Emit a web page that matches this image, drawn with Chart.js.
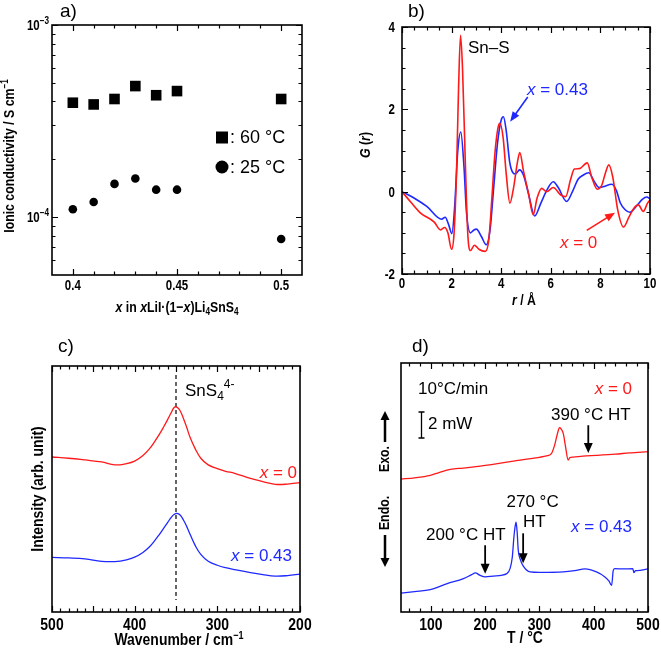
<!DOCTYPE html>
<html>
<head>
<meta charset="utf-8">
<script src="https://cdn.jsdelivr.net/npm/chart.js@4.4.1/dist/chart.umd.min.js"></script>
<style>
  body { margin: 0; background: #fff; }
  #wrap { position: relative; width: 661px; height: 652px; }
  #wrap canvas { position: absolute; left: 0; top: 0; }
</style>
</head>
<body>
<div id="wrap">
  <canvas id="chartA" width="661" height="652"></canvas>
  <canvas id="chartB" width="661" height="652"></canvas>
  <canvas id="chartC" width="661" height="652"></canvas>
  <canvas id="chartD" width="661" height="652"></canvas>
</div>
<script>
"use strict";

// a) ionic conductivity vs composition
const aX = [0.40, 0.41, 0.42, 0.43, 0.44, 0.45, 0.50];
const aS60 = [3.94e-4, 3.86e-4, 4.12e-4, 4.81e-4, 4.31e-4, 4.53e-4, 4.12e-4];
const aS25 = [1.10e-4, 1.20e-4, 1.49e-4, 1.59e-4, 1.39e-4, 1.39e-4, 7.7e-5];
const aXTicks = [0.4, 0.45, 0.5];
const aYTicks = [1e-4, 1e-3];
const aYExp = ["−4", "−3"];

// b) pair distribution function G(r)
const bR0 = [0, 0.35, 0.75, 1.3, 1.55, 1.72, 1.85, 2.0, 2.1, 2.2, 2.28, 2.36, 2.44, 2.55, 2.65, 2.76, 2.92, 3.1, 3.36, 3.5,
  3.62, 3.75, 3.87, 3.95, 4.08, 4.2, 4.35, 4.5, 4.65, 4.75, 4.9, 5.1, 5.29, 5.45, 5.63, 5.83, 6.1, 6.4, 6.6, 6.8,
  6.95, 7.15, 7.47, 7.65, 7.87, 8.05, 8.2, 8.34, 8.5, 8.7, 8.93, 9.15, 9.35, 9.53, 9.73, 9.9, 10];
const bG0 = [0, -0.25, -0.52, -0.74, -0.93, -0.87, -1.0, -1.4, -1.0, 0.5, 2.5, 3.8, 3.0, 0.77, -1.0, -1.43, -1.3, -1.4, -1.45, -1.17,
  -0.2, 0.95, 1.55, 1.66, 1.3, 0.45, -0.28, 0.1, 0.7, 0.95, 0.5, -0.04, -0.56, -0.15, 0.08, 0.0, 0.1, -0.08, -0.12, 0.3,
  0.55, 0.56, 0.7, 0.35, 0.06, 0.15, 0.45, 0.65, 0.35, -0.45, -0.86, -0.62, -0.4, -0.32, -0.48, -0.28, -0.2];
const bR43 = [0, 0.5, 1.0, 1.6, 1.74, 1.88, 2.01, 2.12, 2.25, 2.37, 2.5, 2.6, 2.76, 2.9, 3.0, 3.2, 3.4, 3.55, 3.7, 3.85,
  4.0, 4.09, 4.2, 4.35, 4.58, 4.74, 4.9, 5.1, 5.35, 5.6, 5.85, 6.1, 6.3, 6.64, 6.9, 7.1, 7.3, 7.53, 7.75, 7.95,
  8.1, 8.47, 8.65, 8.8, 9.0, 9.19, 9.45, 9.7, 9.87, 10];
const bG43 = [0, -0.16, -0.36, -0.67, -0.62, -0.8, -1.02, -0.4, 1.0, 1.45, 0.6, -0.5, -1.0, -0.93, -0.91, -1.09, -1.29, -0.93, 0.12, 1.17,
  1.74, 1.82, 1.49, 0.69, 0.43, 0.53, 0.4, -0.05, -0.59, -0.28, 0.05, 0.24, 0.1, -0.24, 0.04, 0.3, 0.4, 0.46, 0.25, 0.1,
  0.12, 0.18, 0.02, -0.27, -0.44, -0.5, -0.35, -0.18, -0.13, -0.18];

// c) Raman spectra (arb. unit)
const cWn = [500, 480, 460, 440, 424, 410, 400, 390, 382, 376, 370, 365, 360, 356, 352, 349, 345, 341, 337, 333, 327, 320, 311, 300, 290, 279, 260, 245, 230, 215, 200];
const cI0 = [63.0, 62.5, 61.8, 61.0, 59.8, 60.3, 61.3, 63.6, 66.4, 69.2, 72.3, 75.2, 78.3, 80.9, 83.2, 83.3, 81.8, 78.7, 75.0, 71.0, 66.5, 62.5, 59.8, 58.3, 57.2, 56.4, 54.3, 53.0, 51.9, 52.0, 52.6];
const cI43 = [22.2, 22.0, 21.6, 20.6, 20.5, 21.2, 22.3, 24.2, 26.5, 28.9, 31.6, 34.0, 36.4, 38.4, 39.7, 40.1, 39.4, 37.4, 34.7, 31.6, 27.2, 23.4, 20.6, 19.0, 18.0, 17.2, 16.0, 15.2, 14.6, 14.8, 15.4];
const cPeak = 350;

// d) DSC curves (arb. unit)
const dT0 = [45, 70, 99, 115, 136, 160, 191, 220, 252, 280, 313, 322, 328, 333, 337, 341, 344, 348, 353, 356, 362, 380, 405, 440, 466, 500];
const dH0 = [53.4, 53.9, 54.9, 56.0, 57.3, 57.8, 58.6, 59.5, 60.6, 61.5, 62.7, 63.6, 67.0, 71.5, 74.0, 73.2, 71.6, 66.5, 61.0, 62.0, 62.2, 62.6, 62.9, 63.4, 63.9, 64.4];
const dT43 = [45, 70, 99, 130, 160, 175, 182, 190, 200, 215, 240, 246, 250, 253, 255, 257, 259, 261, 265, 270, 283, 300, 344, 365, 384,
  405, 420, 428, 433, 436, 439, 455, 472, 474, 477, 480, 500];
const dH43 = [7.6, 8.2, 9.0, 11.4, 13.4, 15.0, 15.7, 14.8, 14.1, 14.4, 15.4, 17.5, 22, 30.1, 34, 36.1, 32, 24.8, 21, 18.5, 16.1, 15.9, 16.1, 16.6, 17.3,
  16.1, 14.2, 12.5, 10.7, 16.7, 17.4, 17.3, 17.4, 15.8, 16.6, 16.6, 17.3];
const dXTicks = [100, 200, 300, 400, 500];
const dHT = [200, 270, 390];

const RED = "rgb(255,25,25)";
const BLUE = "rgb(30,40,255)";
const SANS = "'Liberation Sans', Arial, sans-serif";
const NB = (s) => `bold ${s}px ${SANS}`;
const NBI = (s) => `italic bold ${s}px ${SANS}`;
const AR = (s) => `${s}px ${SANS}`;
const ARI = (s) => `italic ${s}px ${SANS}`;
const NARROW = 0.82; // axis text in the figure is a condensed bold face

const pts = (xs, ys) => xs.map((x, i) => ({ x, y: ys[i] }));
const steps = (a, b, st, skip) => {
  const out = [];
  for (let v = a; v <= b + 1e-9; v += st) {
    const r = Math.round(v * 1000) / 1000;
    if (!skip.some((s) => Math.abs(s - r) < 1e-9)) out.push(r);
  }
  return out;
};

// runs: [text, font, dy]; k squeezes the text horizontally
function rich(ctx, runs, x, y, align, rot, base, k) {
  ctx.save();
  ctx.translate(x, y);
  if (rot) ctx.rotate(rot);
  if (k) ctx.scale(k, 1);
  ctx.textAlign = "left";
  ctx.textBaseline = base || "alphabetic";
  let w = 0;
  runs.forEach((r) => { ctx.font = r[1]; w += ctx.measureText(r[0]).width; });
  let cx = align === "center" ? -w / 2 : align === "right" ? -w : 0;
  runs.forEach((r) => {
    ctx.font = r[1];
    ctx.fillText(r[0], cx, r[2] || 0);
    cx += ctx.measureText(r[0]).width;
  });
  ctx.restore();
}

function arrow(ctx, x1, y1, x2, y2, lw, hl, hw) {
  const ang = Math.atan2(y2 - y1, x2 - x1);
  const c = Math.cos(ang), s = Math.sin(ang);
  ctx.lineWidth = lw;
  ctx.beginPath();
  ctx.moveTo(x1, y1);
  ctx.lineTo(x2 - hl * 0.7 * c, y2 - hl * 0.7 * s);
  ctx.stroke();
  ctx.beginPath();
  ctx.moveTo(x2, y2);
  ctx.lineTo(x2 - hl * c + (hw / 2) * s, y2 - hl * s - (hw / 2) * c);
  ctx.lineTo(x2 - hl * c - (hw / 2) * s, y2 - hl * s + (hw / 2) * c);
  ctx.closePath();
  ctx.fill();
}

// box with inward ticks on every side, tick labels, plus the panel's own text
function frame(spec) {
  return {
    id: "frame",
    afterDraw(chart) {
      const { ctx, chartArea: a } = chart;
      const sx = chart.scales.x, sy = chart.scales.y;
      ctx.save();
      ctx.strokeStyle = "#000";
      ctx.lineWidth = 1.2;
      const mark = (sc, vals, len) => {
        vals.forEach((v) => {
          const p = Math.round(sc.getPixelForValue(v)) + 0.5;
          ctx.beginPath();
          if (sc === sx) {
            ctx.moveTo(p, a.bottom); ctx.lineTo(p, a.bottom - len);
            ctx.moveTo(p, a.top); ctx.lineTo(p, a.top + len);
          } else {
            ctx.moveTo(a.left, p); ctx.lineTo(a.left + len, p);
            ctx.moveTo(a.right, p); ctx.lineTo(a.right - len, p);
          }
          ctx.stroke();
        });
      };
      mark(sx, spec.xMajor || [], 6);
      mark(sx, spec.xMinor || [], 3.5);
      mark(sy, spec.yMajor || [], 6);
      mark(sy, spec.yMinor || [], 3.5);
      ctx.lineWidth = 1.6;
      ctx.strokeRect(a.left, a.top, a.right - a.left, a.bottom - a.top);
      ctx.fillStyle = "#000";
      ctx.strokeStyle = "#000";
      const fs = spec.labelSize;
      sx.ticks.forEach((t) => {
        rich(ctx, [[String(t.value), NB(fs)]], sx.getPixelForValue(t.value), a.bottom + spec.xLabelDy, "center", 0, null, NARROW);
      });
      if (spec.yLabels) {
        sy.ticks.forEach((t) => {
          rich(ctx, [[String(t.value), NB(fs)]], a.left - 7, sy.getPixelForValue(t.value) + 5, "right", 0, null, NARROW);
        });
      }
      spec.draw(ctx, sx, sy);
      ctx.restore();
    },
  };
}

function xAxis(o) {
  return Object.assign({
    type: "linear",
    grid: { display: false, drawTicks: false },
    border: { display: false },
    ticks: { display: false },
    afterFit: (s) => { s.height = 30; },
  }, o);
}
function yAxis(o) {
  return Object.assign({
    type: "linear",
    grid: { display: false, drawTicks: false },
    border: { display: false },
    ticks: { display: false },
    afterFit: (s) => { s.width = 40; },
  }, o);
}
function base(pad, x, y) {
  return {
    responsive: false,
    animation: false,
    events: [],
    layout: { padding: pad },
    plugins: { legend: { display: false }, tooltip: { enabled: false } },
    scales: { x: x, y: y },
  };
}
const lineSet = (data, color, w, smooth) => Object.assign({
  data, showLine: true, borderColor: color, borderWidth: w, pointRadius: 0, fill: false,
}, smooth === "tension" ? { tension: 0.4 } : { cubicInterpolationMode: "monotone" });

// ---- a)
new Chart(document.getElementById("chartA"), {
  type: "scatter",
  data: {
    datasets: [
      { data: pts(aX, aS60), pointStyle: "rect", pointRadius: 7.5, backgroundColor: "#000", borderWidth: 0 },
      { data: pts(aX, aS25), pointStyle: "circle", pointRadius: 4.3, backgroundColor: "#000", borderWidth: 0 },
    ],
  },
  options: base(
    { left: 12, top: 25, right: 359, bottom: 347 },
    xAxis({ min: 0.39, max: 0.51, afterBuildTicks: (s) => { s.ticks = aXTicks.map((v) => ({ value: v })); } }),
    yAxis({ type: "logarithmic", min: 5e-5, max: 1e-3 })
  ),
  plugins: [frame({
    labelSize: 14,
    xLabelDy: 15,
    xMajor: aXTicks,
    xMinor: steps(0.39, 0.51, 0.01, aXTicks.concat([0.39, 0.51])),
    yMajor: aYTicks,
    yMinor: [6e-5, 7e-5, 8e-5, 9e-5, 2e-4, 3e-4, 4e-4, 5e-4, 6e-4, 7e-4, 8e-4, 9e-4],
    draw(ctx, sx, sy) {
      aYTicks.forEach((v, i) => {
        rich(ctx, [["10", NB(14)], [aYExp[i], NB(10), -6]], 49, sy.getPixelForValue(v) + 5, "right", 0, null, NARROW);
      });
      rich(ctx, [["a)", AR(19)]], 60, 17, "left");
      rich(ctx, [["Ionic conductivity / S cm", NB(15)], ["−1", NB(10), -5]], 10, 156, "center", -Math.PI / 2, "middle", NARROW);
      rich(ctx, [["x", NBI(15)], [" in ", NB(15)], ["x", NBI(15)], ["LiI·(1−", NB(15)], ["x", NBI(15)], [")Li", NB(15)],
        ["4", NB(10), 3], ["SnS", NB(15)], ["4", NB(10), 3]], 177, 312, "center", 0, null, NARROW);
      ctx.fillRect(216, 131.5, 12, 12);
      ctx.beginPath();
      ctx.arc(222, 167, 6.5, 0, Math.PI * 2);
      ctx.fill();
      rich(ctx, [[": 60 °C", AR(18)]], 230, 143, "left");
      rich(ctx, [[": 25 °C", AR(18)]], 230, 173, "left");
    },
  })],
});

// ---- b)
new Chart(document.getElementById("chartB"), {
  type: "scatter",
  data: {
    datasets: [
      lineSet(pts(bR0, bG0), RED, 1.6),
      lineSet(pts(bR43, bG43), BLUE, 1.6),
    ],
  },
  options: base(
    { left: 362, top: 27, right: 11, bottom: 348 },
    xAxis({ min: 0, max: 10, ticks: { display: false, stepSize: 2 } }),
    yAxis({ min: -2, max: 4, ticks: { display: false, stepSize: 2 } })
  ),
  plugins: [frame({
    labelSize: 14,
    xLabelDy: 14,
    yLabels: true,
    xMajor: [0, 2, 4, 6, 8, 10],
    xMinor: steps(0, 10, 0.5, [0, 2, 4, 6, 8, 10]),
    yMajor: [-2, 0, 2, 4],
    yMinor: steps(-2, 4, 0.5, [-2, 0, 2, 4]),
    draw(ctx, sx, sy) {
      const P = (x, y) => [sx.getPixelForValue(x), sy.getPixelForValue(y)];
      rich(ctx, [["b)", AR(19)]], 408, 17, "left");
      rich(ctx, [["Sn–S", AR(17)]], 468, 53, "left");
      ctx.fillStyle = BLUE; ctx.strokeStyle = BLUE;
      rich(ctx, [["x", ARI(17)], [" = 0.43", AR(17)]], 527, 95, "left");
      arrow(ctx, ...P(5.07, 2.3), ...P(4.36, 1.70), 1.6, 10, 8);
      ctx.fillStyle = RED; ctx.strokeStyle = RED;
      rich(ctx, [["x", ARI(17)], [" = 0", AR(17)]], 560, 248, "left");
      arrow(ctx, ...P(7.45, -0.94), ...P(8.59, -0.51), 1.6, 10, 8);
      ctx.fillStyle = "#000";
      rich(ctx, [["G", NBI(15)], [" (", NB(15)], ["r", NBI(15)], [")", NB(15)]], 366, 145, "center", -Math.PI / 2, "middle", NARROW);
      rich(ctx, [["r", NBI(15)], [" / Å", NB(15)]], 524, 305, "center", 0, null, NARROW);
    },
  })],
});

// ---- c)
new Chart(document.getElementById("chartC"), {
  type: "scatter",
  data: {
    datasets: [
      lineSet(pts(cWn, cI0), RED, 1.3, "tension"),
      lineSet(pts(cWn, cI43), BLUE, 1.3, "tension"),
      { data: [{ x: cPeak, y: 96.3 }, { x: cPeak, y: 4.9 }], showLine: true, borderColor: "#000", borderWidth: 1.2, borderDash: [4, 3], pointRadius: 0 },
    ],
  },
  options: base(
    { left: 12, top: 366, right: 361, bottom: 10 },
    xAxis({ min: 200, max: 500, reverse: true, ticks: { display: false, stepSize: 100 } }),
    yAxis({ min: 0, max: 100 })
  ),
  plugins: [frame({
    labelSize: 17,
    xLabelDy: 18,
    xMajor: steps(200, 500, 50, []),
    xMinor: steps(200, 500, 10, steps(200, 500, 50, [])),
    draw(ctx) {
      rich(ctx, [["c)", AR(19)]], 58, 352, "left");
      rich(ctx, [["SnS", AR(17)], ["4", AR(12), 4], ["4-", AR(12), -8]], 185, 396, "left");
      ctx.fillStyle = RED;
      rich(ctx, [["x", ARI(17)], [" = 0", AR(17)]], 297, 478, "right");
      ctx.fillStyle = BLUE;
      rich(ctx, [["x", ARI(17)], [" = 0.43", AR(17)]], 292, 561, "right");
      ctx.fillStyle = "#000";
      rich(ctx, [["Wavenumber / cm", NB(17)], ["−1", NB(11), -6]], 179, 645, "center", 0, null, NARROW);
      rich(ctx, [["Intensity (arb. unit)", NB(17)]], 38, 489, "center", -Math.PI / 2, "middle", NARROW);
    },
  })],
});

// ---- d)
new Chart(document.getElementById("chartD"), {
  type: "scatter",
  data: {
    datasets: [
      lineSet(pts(dT0, dH0), RED, 1.3),
      lineSet(pts(dT43, dH43), BLUE, 1.3),
    ],
  },
  options: base(
    { left: 361, top: 363, right: 13, bottom: 10 },
    xAxis({ min: 45, max: 500, afterBuildTicks: (s) => { s.ticks = dXTicks.map((v) => ({ value: v })); } }),
    yAxis({ min: 0, max: 100 })
  ),
  plugins: [frame({
    labelSize: 17,
    xLabelDy: 18,
    xMajor: dXTicks,
    xMinor: steps(60, 480, 20, [100, 200, 300, 400]),
    draw(ctx, sx, sy) {
      const X = (v) => sx.getPixelForValue(v);
      const Y = (v) => sy.getPixelForValue(v);
      rich(ctx, [["d)", AR(19)]], 412, 352, "left");
      rich(ctx, [["10°C/min", AR(17)]], 418, 394, "left");
      ctx.lineWidth = 1.3;
      ctx.beginPath();
      ctx.moveTo(421.5, 412); ctx.lineTo(421.5, 438);
      ctx.moveTo(418.5, 412); ctx.lineTo(424.5, 412);
      ctx.moveTo(418.5, 438); ctx.lineTo(424.5, 438);
      ctx.stroke();
      rich(ctx, [["2 mW", AR(17)]], 428, 429, "left");
      rich(ctx, [["390 °C HT", AR(17)]], 551, 420, "left");
      arrow(ctx, X(dHT[2]), Y(75), X(dHT[2]), Y(63.9), 1.8, 10, 9);
      rich(ctx, [["270 °C", AR(17)]], 506.5, 507, "left");
      rich(ctx, [["HT", AR(17)]], 523, 527, "left");
      arrow(ctx, X(dHT[1]), Y(31.6), X(dHT[1]), Y(19.6), 1.8, 10, 9);
      rich(ctx, [["200 °C HT", AR(17)]], 426, 540, "left");
      arrow(ctx, X(dHT[0]), Y(26.8), X(dHT[0]), Y(15.4), 1.8, 10, 9);
      rich(ctx, [["Exo.", NB(15)]], 385, 459, "center", -Math.PI / 2, "middle", NARROW);
      rich(ctx, [["Endo.", NB(15)]], 385, 513, "center", -Math.PI / 2, "middle", NARROW);
      arrow(ctx, 385, 442, 385, 411, 2.5, 9, 9);
      arrow(ctx, 385, 535, 385, 567, 2.5, 9, 9);
      rich(ctx, [["T / °C", NB(17)]], 525, 643, "center", 0, null, NARROW);
      ctx.fillStyle = RED;
      rich(ctx, [["x", ARI(17)], [" = 0", AR(17)]], 632, 394, "right");
      ctx.fillStyle = BLUE;
      rich(ctx, [["x", ARI(17)], [" = 0.43", AR(17)]], 632, 532, "right");
    },
  })],
});
</script>
</body>
</html>
